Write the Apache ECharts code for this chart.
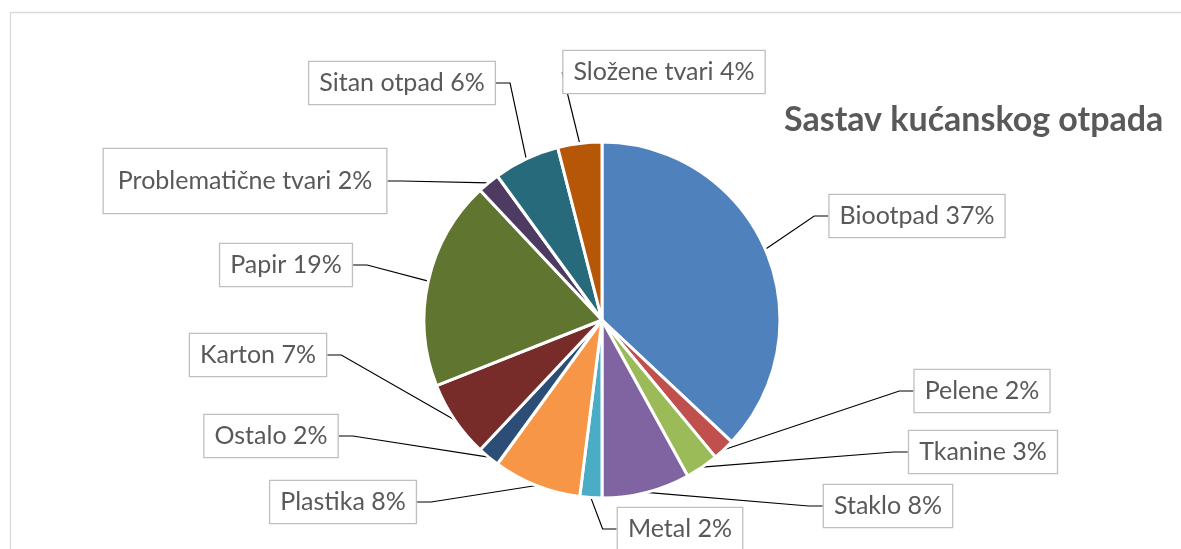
<!DOCTYPE html>
<html>
<head>
<meta charset="utf-8">
<script src="https://cdn.jsdelivr.net/npm/echarts@6/dist/echarts.min.js"></script>
<style>
html,body{margin:0;padding:0;background:#fff;}
#chart{width:1181px;height:549px;}
</style>
</head>
<body>
<div id="chart"></div>
<script>
// ---- data ----
const categories = ['Biootpad','Pelene','Tkanine','Staklo','Metal','Plastika','Ostalo','Karton','Papir','Problematične tvari','Sitan otpad','Složene tvari'];
const shares = [37,2,3,8,2,8,2,7,19,2,6,4];
const sliceColors = ['#4F81BD','#C0504D','#9BBB59','#8064A2','#4BACC6','#F79646','#2C4D75','#772C2A','#5F7530','#4D3B62','#276A7C','#B65708'];
const titleText = 'Sastav kućanskog otpada';

// ---- layout (label box centres, in px) ----
const labelCentres = [
  [917,216],[982,391],[983,452],[888,506],[680,529],[343,502],
  [271,436],[258,355],[286,265],[245,181],[402,83],[664,72]
];

const FONT = 'Lato';
const chart = echarts.init(document.getElementById('chart'), null, {renderer:'canvas'});

const data = categories.map((c,i)=>({
  name:c, value:shares[i],
  itemStyle:{color:sliceColors[i]},
  label: i===9 ? {padding:[19,14,19,14]} : {}
}));

chart.setOption({
  animation:false,
  backgroundColor:'#fff',
  title:{
    text:titleText, left:779, top:98,
    textStyle:{fontFamily:FONT, fontWeight:'bold', fontSize:34, color:'#595959'}
  },
  graphic:[{
    type:'rect', silent:true,
    shape:{x:10.5,y:12.5,width:1400,height:1000},
    style:{fill:'none', stroke:'#d9d9d9', lineWidth:1.3}
  }],
  series:[{
    type:'pie',
    center:[602,320],
    radius:[0,178],
    startAngle:90,
    clockwise:true,
    data:data,
    itemStyle:{borderColor:'#fff', borderWidth:3},
    label:{
      show:true, position:'outside',
      formatter: p => p.name + ' ' + p.value + '%',
      fontFamily:FONT, fontSize:25, color:'#595959',
      backgroundColor:'#fff', borderColor:'#bfbfbf', borderWidth:1.3,
      padding:[8,10,8,10], lineHeight:26
    },
    labelLine:{show:true, length:12, length2:14, smooth:false,
      lineStyle:{color:'#000', width:1.2}},
    labelLayout: function(params){
      const c = labelCentres[params.dataIndex];
      return {x:c[0], y:c[1], align:'center', verticalAlign:'middle'};
    }
  }]
});
</script>
</body>
</html>
